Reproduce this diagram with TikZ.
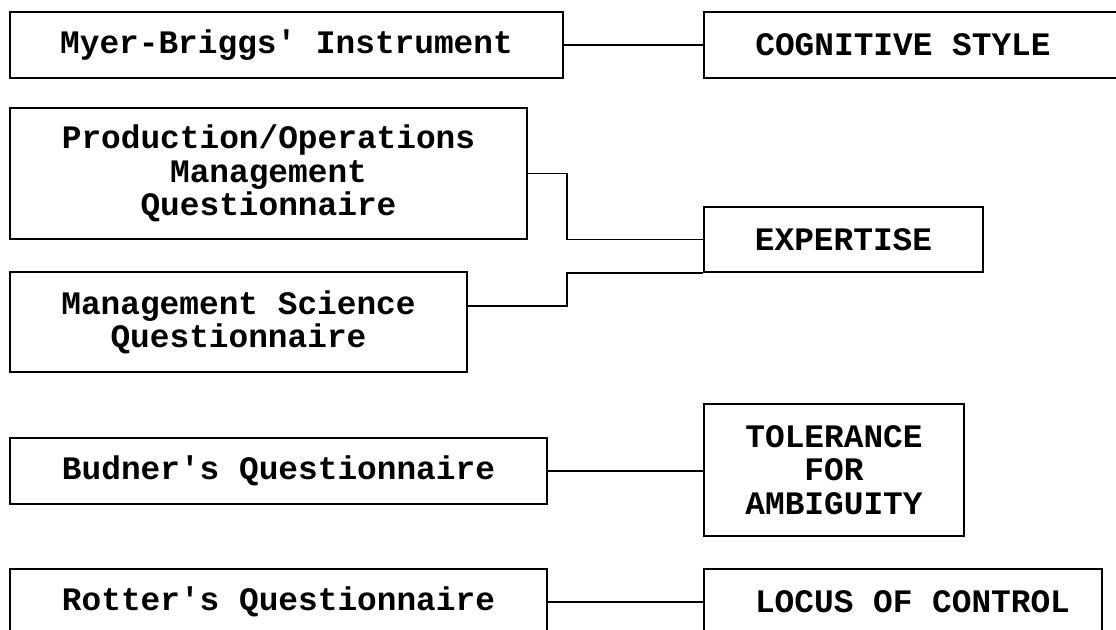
\documentclass[tikz,border=0pt]{standalone}
\usepackage{fontspec}
\newfontfamily\boxfont{Liberation Mono}
\begin{document}
\begin{tikzpicture}[x=0.5pt, y=-0.5pt,
  box/.style args={#1x#2}{draw, line width=0.9pt, rectangle, inner sep=0pt,
    minimum width=#1*0.5pt, minimum height=#2*0.5pt, align=center,
    font=\boxfont\bfseries\fontsize{16.4pt}{16.6pt}\selectfont},
  link/.style={draw, line width=0.75pt}]
\useasboundingbox (0,0) rectangle (1116,630);

% instruments (left column)
\node[box=553x66] (myer) at (286.5,45)  {Myer-Briggs' Instrument};
\node[box=517x131] (pom) at (268.5,173.5) {Production/Operations\\Management\\Questionnaire};
\node[box=457x100] (ms)  at (238.5,322) {Management Science\\Questionnaire};
\node[box=537x66] (bud)  at (278.5,471) {Budner's Questionnaire};
\node[box=537x66] (rot)  at (278.5,602) {Rotter's Questionnaire};

% constructs (right column)
\node[box=418x66] (cog) at (913,45)    {COGNITIVE STYLE\hspace*{10pt}};
\node[box=279x65] (exp) at (843.5,239.5) {EXPERTISE};
\node[box=260x132] (tol) at (834,470)  {TOLERANCE\\FOR\\AMBIGUITY};
\node[box=398x66] (loc) at (903,602)   {\hspace*{9.5pt}LOCUS OF CONTROL};

% connectors
\draw[link] (myer.east) -- (myer.east -| cog.west);
\draw[link] (pom.east) -- ++(39,0) |- (exp.west);
\draw[link] ([yshift=8pt]ms.east) -- ++(99,0) |- (exp.south west);
\draw[link] (bud.east) -- (bud.east -| tol.west);
\draw[link] (rot.east) -- (rot.east -| loc.west);
\end{tikzpicture}
\end{document}
